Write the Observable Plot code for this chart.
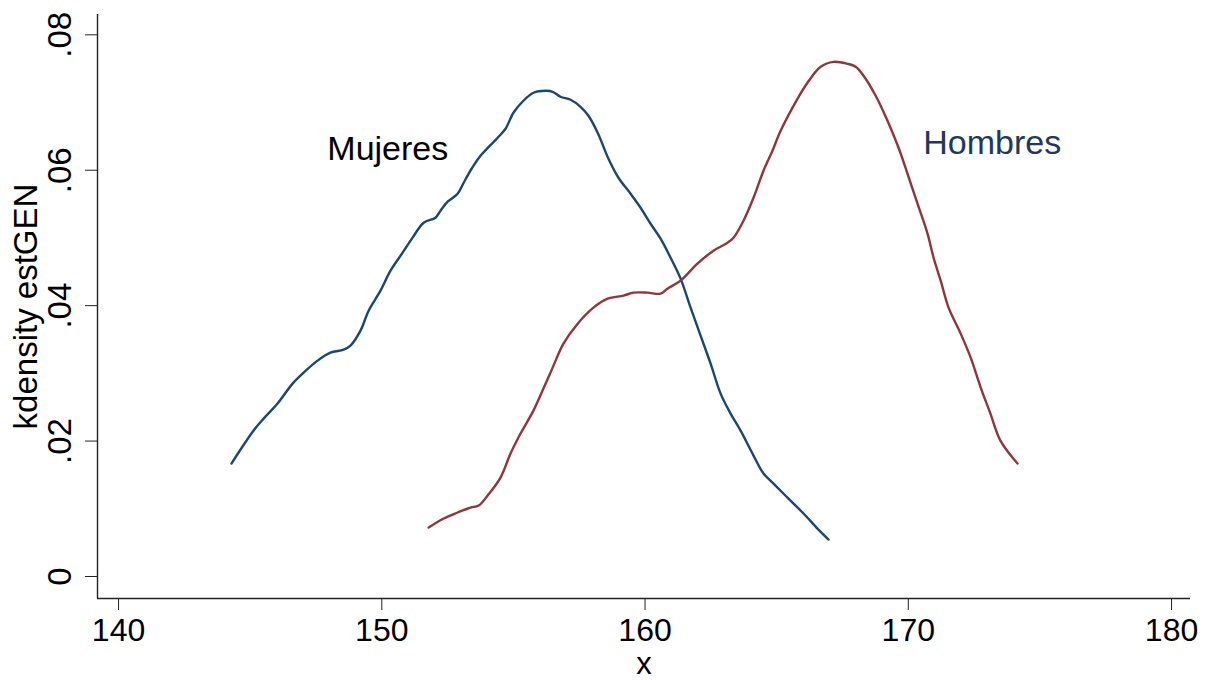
<!DOCTYPE html>
<html>
<head>
<meta charset="utf-8">
<script src="https://cdn.jsdelivr.net/npm/d3@7"></script>
<script src="https://cdn.jsdelivr.net/npm/@observablehq/plot@0.6"></script>
<style>
  html, body { margin: 0; padding: 0; background: #fff; }
  #chart svg { display: block; }
</style>
</head>
<body>
<div id="chart"></div>
<script>
// Mujeres (kdensity of estGEN, women)
const mujeresX = [144.29,145.13,145.51,146.04,146.61,147.03,147.56,148.05,148.55,148.81,149.19,149.50,149.95,150.33,150.79,151.17,151.59,152.04,152.23,152.50,152.88,153.11,153.41,153.75,154.40,154.70,155.00,155.38,155.76,156.22,156.49,156.79,157.17,157.55,157.85,158.20,158.61,158.99,159.45,159.83,160.21,160.59,160.97,161.35,161.73,162.11,162.49,162.87,163.25,163.63,164.12,164.50,164.88,165.41,166.02,166.55,166.97];
const mujeresY = [0.01668,0.02155,0.02332,0.02554,0.02849,0.03011,0.03188,0.03306,0.03351,0.03410,0.03631,0.03926,0.04221,0.04517,0.04782,0.05004,0.05225,0.05299,0.05402,0.05535,0.05653,0.05815,0.06022,0.06214,0.06480,0.06613,0.06849,0.07026,0.07144,0.07173,0.07159,0.07085,0.07041,0.06937,0.06804,0.06554,0.06170,0.05889,0.05653,0.05446,0.05210,0.04989,0.04708,0.04399,0.03970,0.03557,0.03144,0.02701,0.02406,0.02155,0.01786,0.01520,0.01373,0.01166,0.00930,0.00708,0.00546];

// Hombres (kdensity of estGEN, men)
const hombresX = [151.78,152.35,152.88,153.37,153.68,154.02,154.51,154.89,155.27,155.76,156.14,156.49,156.90,157.44,158.04,158.58,159.18,159.56,160.09,160.59,160.85,161.35,161.99,162.60,163.13,163.36,163.74,164.12,164.50,164.84,165.15,165.79,166.17,166.67,167.16,167.69,168.00,168.30,168.76,169.21,169.63,169.97,170.35,170.73,170.96,171.23,171.53,171.99,172.37,172.75,173.12,173.50,174.15];
const hombresY = [0.00723,0.00856,0.00945,0.01018,0.01048,0.01196,0.01461,0.01815,0.02111,0.02450,0.02775,0.03085,0.03439,0.03734,0.03970,0.04103,0.04148,0.04192,0.04192,0.04177,0.04251,0.04369,0.04620,0.04812,0.04930,0.05004,0.05255,0.05594,0.05993,0.06288,0.06583,0.07055,0.07292,0.07528,0.07601,0.07572,0.07528,0.07395,0.07100,0.06731,0.06332,0.05948,0.05506,0.05063,0.04708,0.04369,0.03970,0.03587,0.03232,0.02790,0.02406,0.02007,0.01668];

const xTicks = [140, 150, 160, 170, 180];
const yTicks = [0, 0.02, 0.04, 0.06, 0.08];
const yTickLabels = ["0", ".02", ".04", ".06", ".08"];

const labels = ["Mujeres", "Hombres"];
const labelX = [147.93, 170.57];
const labelY = [0.06155, 0.06244];
const labelColors = ["#000000", "#22365e"];

const xDomain = [139.2, 180.72];
const yDomain = [-0.00325, 0.083];

const mujeres = mujeresX.map((x, i) => ({x, y: mujeresY[i]}));
const hombres = hombresX.map((x, i) => ({x, y: hombresY[i]}));
const labelData = labels.map((t, i) => ({t, x: labelX[i], y: labelY[i], c: labelColors[i]}));

const chart = Plot.plot({
  width: 1211,
  height: 680,
  marginLeft: 97,
  marginRight: 21,
  marginTop: 14,
  marginBottom: 82,
  style: {fontFamily: "'Liberation Sans', Arial, sans-serif", fontSize: "33px", background: "#fff", color: "#000"},
  x: {domain: xDomain},
  y: {domain: yDomain},
  marks: [
    Plot.axisX({ticks: xTicks, tickSize: 12, tickPadding: 8, tickFormat: d => String(d), fontSize: 32,
      label: null, stroke: "#222"}),
    Plot.axisX({ticks: [], fontSize: 31,
      label: "x", labelAnchor: "center", labelArrow: "none", labelOffset: 75}),
    Plot.axisY({ticks: yTicks, tickSize: 12, tickPadding: 15, tickRotate: -90,
      tickFormat: d => yTickLabels[yTicks.indexOf(d)], fontSize: 33,
      label: "kdensity estGEN", labelAnchor: "center", labelArrow: "none", labelOffset: 84, stroke: "#222"}),
    Plot.ruleX([xDomain[0]], {stroke: "#222", strokeWidth: 1.4}),
    Plot.ruleY([yDomain[0]], {stroke: "#222", strokeWidth: 1.4}),
    Plot.line(mujeres, {x: "x", y: "y", stroke: "#1a476f", strokeWidth: 2.4, curve: "catmull-rom"}),
    Plot.line(hombres, {x: "x", y: "y", stroke: "#90353b", strokeWidth: 2.4, curve: "catmull-rom"}),
    Plot.text(labelData, {x: "x", y: "y", text: "t", fill: "c", textAnchor: "start", lineAnchor: "bottom", fontSize: 34})
  ]
});
document.getElementById("chart").appendChild(chart);
</script>
</body>
</html>
